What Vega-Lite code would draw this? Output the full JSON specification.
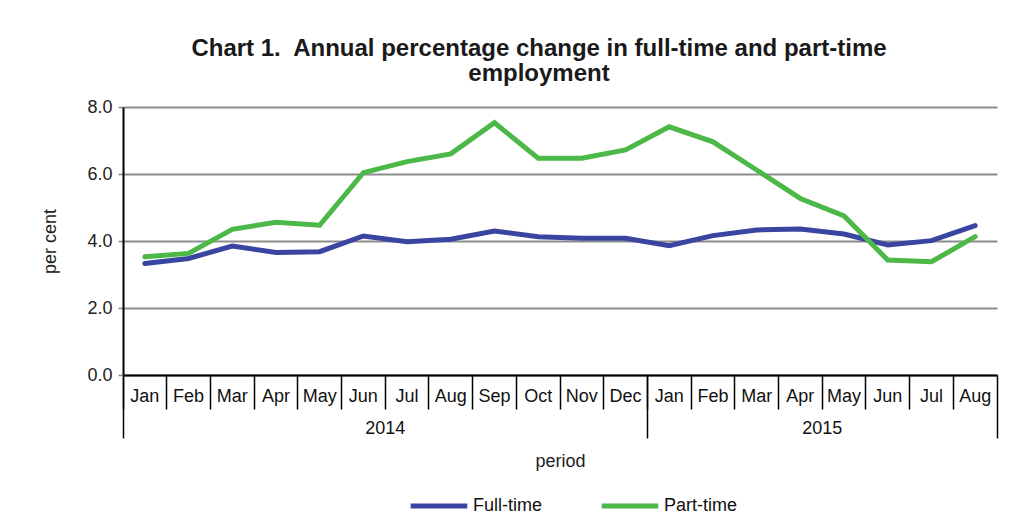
{
  "$schema": "https://vega.github.io/schema/vega-lite/v6.json",
  "width": 874,
  "height": 268,
  "autosize": {"type": "none"},
  "padding": {"left": 123, "top": 107, "right": 35, "bottom": 143},
  "background": "white",
  "title": {
    "text": ["Chart 1.\u00a0 Annual percentage change in full-time and part-time", "employment"],
    "font": "Liberation Sans",
    "fontSize": 24,
    "fontWeight": "bold",
    "color": "#1a1a1a",
    "anchor": "middle",
    "frame": "group",
    "dx": -21,
    "offset": 12,
    "lineHeight": 25
  },
  "data": {
    "values": [
      {"period": "2014-Jan", "series": "Full-time", "value": 3.33},
      {"period": "2014-Feb", "series": "Full-time", "value": 3.48},
      {"period": "2014-Mar", "series": "Full-time", "value": 3.85},
      {"period": "2014-Apr", "series": "Full-time", "value": 3.66},
      {"period": "2014-May", "series": "Full-time", "value": 3.68},
      {"period": "2014-Jun", "series": "Full-time", "value": 4.15},
      {"period": "2014-Jul", "series": "Full-time", "value": 3.98},
      {"period": "2014-Aug", "series": "Full-time", "value": 4.05},
      {"period": "2014-Sep", "series": "Full-time", "value": 4.3},
      {"period": "2014-Oct", "series": "Full-time", "value": 4.13},
      {"period": "2014-Nov", "series": "Full-time", "value": 4.08},
      {"period": "2014-Dec", "series": "Full-time", "value": 4.08},
      {"period": "2015-Jan", "series": "Full-time", "value": 3.86},
      {"period": "2015-Feb", "series": "Full-time", "value": 4.16},
      {"period": "2015-Mar", "series": "Full-time", "value": 4.33},
      {"period": "2015-Apr", "series": "Full-time", "value": 4.36},
      {"period": "2015-May", "series": "Full-time", "value": 4.21},
      {"period": "2015-Jun", "series": "Full-time", "value": 3.88},
      {"period": "2015-Jul", "series": "Full-time", "value": 4.01},
      {"period": "2015-Aug", "series": "Full-time", "value": 4.46},
      {"period": "2014-Jan", "series": "Part-time", "value": 3.53},
      {"period": "2014-Feb", "series": "Part-time", "value": 3.63},
      {"period": "2014-Mar", "series": "Part-time", "value": 4.35},
      {"period": "2014-Apr", "series": "Part-time", "value": 4.56},
      {"period": "2014-May", "series": "Part-time", "value": 4.47},
      {"period": "2014-Jun", "series": "Part-time", "value": 6.04},
      {"period": "2014-Jul", "series": "Part-time", "value": 6.37},
      {"period": "2014-Aug", "series": "Part-time", "value": 6.6},
      {"period": "2014-Sep", "series": "Part-time", "value": 7.53},
      {"period": "2014-Oct", "series": "Part-time", "value": 6.47},
      {"period": "2014-Nov", "series": "Part-time", "value": 6.47},
      {"period": "2014-Dec", "series": "Part-time", "value": 6.72},
      {"period": "2015-Jan", "series": "Part-time", "value": 7.41},
      {"period": "2015-Feb", "series": "Part-time", "value": 6.96},
      {"period": "2015-Mar", "series": "Part-time", "value": 6.12},
      {"period": "2015-Apr", "series": "Part-time", "value": 5.27},
      {"period": "2015-May", "series": "Part-time", "value": 4.75},
      {"period": "2015-Jun", "series": "Part-time", "value": 3.43},
      {"period": "2015-Jul", "series": "Part-time", "value": 3.38},
      {"period": "2015-Aug", "series": "Part-time", "value": 4.13}
    ]
  },
  "config": {
    "font": "Liberation Sans",
    "view": {"stroke": null},
    "axis": {"labelFont": "Liberation Sans", "titleFont": "Liberation Sans", "labelColor": "#222", "titleColor": "#222", "titleFontWeight": "normal"}
  },
  "layer": [
    {
      "mark": {"type": "line", "strokeWidth": 5, "strokeCap": "round", "strokeJoin": "miter"},
      "encoding": {
        "x": {
          "field": "period",
          "type": "nominal",
          "sort": null,
          "scale": {"type": "band", "paddingInner": 0, "paddingOuter": 0},
          "axis": {
            "orient": "bottom",
            "title": null,
            "bandPosition": 0,
            "labelExpr": "split(datum.value, '-')[1]",
            "labelAngle": 0,
            "labelAlign": "center",
            "labelBaseline": "middle",
            "labelPadding": -13,
            "labelFontSize": 18,
            "labelColor": "#111",
            "tickSize": 34,
            "tickColor": "#000",
            "tickWidth": 1.5,
            "domainColor": "#000",
            "domainWidth": 2,
            "grid": false
          }
        },
        "y": {
          "field": "value",
          "type": "quantitative",
          "scale": {"domain": [0, 8]},
          "axis": {
            "title": "per cent",
            "titleFontSize": 18,
            "titlePadding": 27,
            "values": [0, 2, 4, 6, 8],
            "format": ".1f",
            "labelFontSize": 18,
            "labelPadding": 6,
            "tickSize": 5,
            "tickColor": "#888",
            "tickWidth": 1.5,
            "domainColor": "#000",
            "domainWidth": 2,
            "grid": true,
            "gridColor": "#8c8c8c",
            "gridWidth": 1.8
          }
        },
        "color": {
          "field": "series",
          "type": "nominal",
          "scale": {"domain": ["Full-time", "Part-time"], "range": ["#3a45a1", "#4cb848"]},
          "legend": {
            "title": null,
            "orient": "none",
            "legendX": 285,
            "legendY": 368,
            "direction": "horizontal",
            "symbolType": "stroke",
            "symbolSize": 3200,
            "symbolStrokeWidth": 5,
            "labelFontSize": 18,
            "labelColor": "#111",
            "labelOffset": 3,
            "columnPadding": 48
          }
        }
      }
    },
    {
      "mark": {"type": "point", "opacity": 0},
      "encoding": {
        "x": {
          "field": "period",
          "type": "nominal",
          "sort": null,
          "axis": {
            "orient": "bottom",
            "title": "period",
            "titleFontSize": 18,
            "titlePadding": 14,
            "bandPosition": 0,
            "values": ["2014-Jan", "2014-Jul", "2015-Jan", "2015-May"],
            "labelExpr": "datum.value == '2014-Jul' ? '2014' : datum.value == '2015-May' ? '2015' : ''",
            "labelAngle": 0,
            "labelAlign": "center",
            "labelBaseline": "middle",
            "labelOffset": -21.85,
            "labelPadding": -10,
            "labelFontSize": 18,
            "labelColor": "#111",
            "tickSize": 63,
            "tickColor": "#000",
            "tickWidth": 1.5,
            "tickOpacity": {"condition": {"test": "datum.value == '2014-Jul' || datum.value == '2015-May'", "value": 0}, "value": 1},
            "domain": false,
            "grid": false
          }
        }
      }
    },
    {
      "mark": {"type": "point", "opacity": 0},
      "encoding": {
        "x": {
          "field": "period",
          "type": "nominal",
          "sort": null,
          "axis": {
            "orient": "bottom",
            "title": null,
            "bandPosition": 1,
            "values": ["2015-Aug"],
            "labels": false,
            "tickSize": 63,
            "tickColor": "#000",
            "tickWidth": 1.5,
            "domain": false,
            "grid": false
          }
        }
      }
    }
  ],
  "resolve": {"axis": {"x": "independent"}}
}
